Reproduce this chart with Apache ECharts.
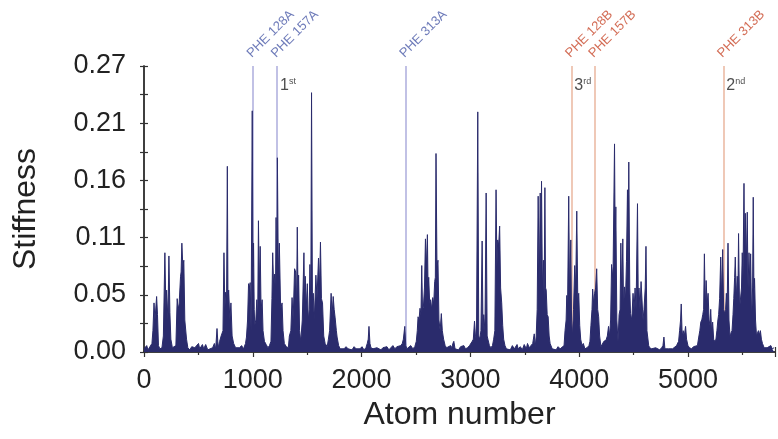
<!DOCTYPE html>
<html><head><meta charset="utf-8">
<script src="https://cdn.jsdelivr.net/npm/echarts@6/dist/echarts.min.js"></script>
<style>html,body{margin:0;padding:0;background:#fff}#c{width:778px;height:439px}</style>
</head><body><div id="c"></div>
<script>
// ---- data ----
const atoms = [0,25,37,55,73,82,92,101,116,124,133,146,165,178,192,201,208,220,229,238,247,261,275,293,305,314,323,336,341,348,357,366,375,391,403,421,439,467,501,512,537,549,567,586,604,631,647,659,671,682,695,709,726,735,743,750,759,766,772,778,789,799,810,824,842,860,878,897,915,933,942,952,961,968,976,984,995,1001,1007,1013,1018,1028,1037,1045,1052,1060,1068,1076,1086,1094,1107,1123,1139,1153,1167,1176,1183,1192,1201,1208,1214,1221,1226,1235,1244,1256,1269,1278,1290,1308,1327,1336,1350,1361,1371,1384,1394,1402,1409,1416,1421,1430,1441,1455,1470,1477,1482,1491,1501,1510,1519,1525,1533,1540,1548,1556,1565,1580,1590,1604,1613,1622,1631,1641,1652,1665,1684,1695,1706,1720,1729,1739,1748,1757,1768,1775,1789,1803,1821,1839,1857,1876,1894,1912,1931,1949,1967,1986,2004,2022,2040,2052,2061,2068,2077,2086,2105,2123,2141,2159,2178,2196,2214,2233,2251,2269,2288,2306,2324,2342,2361,2374,2384,2397,2406,2416,2434,2452,2471,2489,2503,2512,2519,2528,2537,2546,2553,2560,2568,2578,2587,2596,2605,2611,2617,2626,2635,2644,2654,2663,2672,2678,2684,2693,2702,2711,2722,2733,2742,2754,2768,2782,2800,2818,2830,2839,2848,2859,2873,2891,2910,2940,2955,2974,2992,3017,3027,3038,3047,3056,3068,3077,3086,3097,3108,3116,3123,3134,3145,3154,3161,3175,3189,3203,3214,3225,3236,3244,3251,3260,3269,3278,3288,3297,3306,3318,3331,3349,3367,3386,3404,3429,3440,3459,3477,3495,3514,3525,3541,3559,3573,3587,3596,3605,3614,3623,3633,3642,3648,3654,3662,3671,3678,3685,3691,3697,3706,3715,3724,3733,3752,3770,3788,3806,3825,3843,3861,3870,3880,3886,3893,3904,3912,3923,3930,3939,3948,3959,3968,3978,3987,3996,4005,4014,4026,4038,4053,4072,4090,4099,4108,4118,4124,4133,4142,4151,4161,4170,4179,4188,4200,4218,4227,4246,4259,4270,4280,4289,4298,4305,4312,4325,4331,4337,4346,4357,4367,4376,4383,4392,4401,4408,4417,4426,4435,4444,4450,4456,4465,4472,4484,4495,4505,4514,4523,4536,4543,4550,4559,4569,4577,4587,4596,4607,4614,4623,4630,4639,4648,4667,4685,4703,4721,4740,4758,4770,4779,4788,4804,4822,4840,4859,4877,4895,4914,4923,4932,4938,4947,4956,4966,4978,4987,5000,5014,5033,5051,5069,5087,5099,5109,5118,5127,5136,5144,5151,5159,5167,5176,5185,5194,5202,5209,5217,5227,5236,5245,5257,5266,5275,5282,5291,5301,5310,5319,5328,5337,5346,5353,5360,5368,5377,5387,5396,5405,5414,5421,5429,5435,5444,5453,5460,5465,5474,5484,5492,5499,5506,5515,5521,5527,5536,5545,5552,5561,5569,5576,5584,5588,5594,5600,5606,5612,5621,5630,5639,5648,5657,5666,5675,5685,5700,5710,5728,5746,5762,5774,5792];
const stiffness = [0.003,0.006,0.002,0.003,0.008,0.020,0.046,0.030,0.052,0.035,0.006,0.003,0.004,0.015,0.093,0.040,0.058,0.030,0.090,0.037,0.012,0.004,0.003,0.006,0.050,0.040,0.045,0.071,0.075,0.102,0.080,0.086,0.030,0.012,0.004,0.002,0.005,0.004,0.008,0.003,0.007,0.003,0.007,0.002,0.003,0.004,0.008,0.003,0.022,0.004,0.010,0.015,0.020,0.093,0.040,0.056,0.050,0.174,0.045,0.058,0.030,0.046,0.015,0.008,0.004,0.003,0.004,0.006,0.003,0.008,0.014,0.030,0.064,0.060,0.065,0.020,0.226,0.080,0.102,0.040,0.025,0.030,0.049,0.030,0.123,0.060,0.099,0.040,0.049,0.020,0.010,0.007,0.004,0.006,0.010,0.050,0.093,0.060,0.073,0.050,0.126,0.060,0.182,0.070,0.102,0.040,0.046,0.020,0.008,0.005,0.004,0.015,0.020,0.051,0.030,0.078,0.075,0.040,0.117,0.050,0.072,0.020,0.010,0.030,0.093,0.040,0.071,0.040,0.064,0.030,0.040,0.082,0.040,0.243,0.050,0.055,0.030,0.072,0.050,0.088,0.060,0.103,0.050,0.046,0.015,0.008,0.005,0.012,0.020,0.055,0.035,0.052,0.040,0.032,0.020,0.014,0.006,0.003,0.004,0.003,0.005,0.003,0.004,0.002,0.005,0.003,0.004,0.003,0.005,0.002,0.004,0.008,0.012,0.024,0.008,0.004,0.003,0.002,0.004,0.003,0.002,0.004,0.003,0.005,0.002,0.004,0.006,0.003,0.005,0.004,0.006,0.008,0.012,0.024,0.006,0.003,0.004,0.006,0.003,0.005,0.010,0.020,0.033,0.030,0.041,0.035,0.081,0.040,0.042,0.060,0.106,0.080,0.110,0.060,0.070,0.045,0.049,0.040,0.051,0.045,0.066,0.070,0.186,0.080,0.086,0.030,0.020,0.036,0.020,0.012,0.006,0.004,0.003,0.006,0.004,0.008,0.010,0.003,0.004,0.002,0.005,0.006,0.003,0.004,0.006,0.010,0.012,0.029,0.015,0.012,0.225,0.015,0.012,0.020,0.104,0.020,0.035,0.020,0.149,0.015,0.012,0.006,0.004,0.006,0.012,0.020,0.152,0.080,0.105,0.100,0.118,0.060,0.046,0.025,0.012,0.006,0.003,0.004,0.002,0.006,0.003,0.007,0.003,0.005,0.002,0.007,0.003,0.008,0.004,0.005,0.008,0.017,0.005,0.015,0.040,0.146,0.060,0.149,0.070,0.160,0.060,0.086,0.050,0.154,0.060,0.058,0.035,0.033,0.015,0.008,0.003,0.004,0.002,0.005,0.003,0.004,0.006,0.020,0.030,0.053,0.040,0.146,0.050,0.105,0.030,0.015,0.040,0.081,0.060,0.132,0.050,0.055,0.025,0.012,0.006,0.008,0.003,0.004,0.006,0.010,0.025,0.040,0.059,0.045,0.055,0.060,0.078,0.040,0.033,0.015,0.005,0.004,0.010,0.011,0.015,0.024,0.015,0.030,0.082,0.070,0.080,0.195,0.100,0.136,0.030,0.010,0.035,0.040,0.102,0.050,0.106,0.040,0.061,0.050,0.085,0.152,0.080,0.178,0.060,0.036,0.030,0.055,0.040,0.060,0.040,0.139,0.050,0.060,0.040,0.066,0.065,0.030,0.040,0.060,0.099,0.020,0.014,0.006,0.004,0.003,0.002,0.004,0.003,0.002,0.004,0.006,0.014,0.003,0.002,0.003,0.002,0.003,0.004,0.006,0.010,0.020,0.030,0.045,0.015,0.020,0.015,0.024,0.012,0.006,0.004,0.003,0.005,0.004,0.006,0.014,0.020,0.028,0.030,0.035,0.040,0.092,0.040,0.067,0.045,0.055,0.030,0.025,0.040,0.020,0.028,0.012,0.010,0.012,0.020,0.030,0.035,0.050,0.089,0.050,0.096,0.040,0.036,0.040,0.055,0.040,0.102,0.030,0.014,0.018,0.020,0.035,0.050,0.070,0.089,0.050,0.071,0.060,0.111,0.040,0.040,0.060,0.093,0.070,0.158,0.080,0.130,0.080,0.131,0.060,0.093,0.060,0.092,0.035,0.040,0.060,0.145,0.060,0.069,0.030,0.015,0.018,0.020,0.016,0.020,0.012,0.008,0.004,0.003,0.004,0.003,0.006,0.003,0.004];

const pheNames  = ['PHE 128A','PHE 157A','PHE 313A','PHE 128B','PHE 157B','PHE 313B'];
const pheAtoms  = [1000, 1223, 2404, 3928, 4142, 5325];
const pheChains = ['A','A','A','B','B','B'];

const rankNums  = ['1','3','2'];
const rankSups  = ['st','rd','nd'];
const rankAtoms = [1223, 3928, 5325];

const xTickLabels = ['0','1000','2000','3000','4000','5000'];
const yTickLabels = ['0.00','0.05','0.11','0.16','0.21','0.27'];

const X_MAX = 5800, X_STEP = 1000;
const Y_MAX = 0.268, Y_STEP = 0.0536;

// ---- styles ----
const FONT = 'Liberation Sans, Arial, Helvetica, sans-serif';
const BAR = '#2a2b6c';
const TXT = '#222';
const AXIS = '#333';
const lineCol  = {A:'#b2b2df', B:'#ebbba5'};
const labelCol = {A:'#4a5aa8', B:'#c8482c'};

const chart = echarts.init(document.getElementById('c'), null, {renderer:'canvas'});

const axisCommonX = {
  type:'value', min:0, max:X_MAX, interval:X_STEP,
  axisLine:{show:true, lineStyle:{color:AXIS, width:1.5}},
  axisTick:{show:true, inside:true, length:5, lineStyle:{color:AXIS, width:1.2}},
  minorTick:{show:true, splitNumber:2, length:3, lineStyle:{color:AXIS, width:1.2}},
  splitLine:{show:false}
};
const axisCommonY = {
  type:'value', min:0, max:Y_MAX, interval:Y_STEP,
  axisLine:{show:true, lineStyle:{color:AXIS, width:1.5}},
  axisTick:{show:true, inside:true, length:4, lineStyle:{color:AXIS, width:1.2}},
  minorTick:{show:true, splitNumber:2, length:4, lineStyle:{color:AXIS, width:1.2}},
  splitLine:{show:false}
};

chart.setOption({
  animation:false,
  backgroundColor:'#fff',
  grid:{left:144, right:1, top:66, bottom:87, containLabel:false},
  xAxis:[
    Object.assign({}, axisCommonX, {
      position:'bottom',
      axisLabel:{show:true, fontSize:27, color:TXT, fontFamily:FONT, margin:15,
        formatter:v => { const i = Math.round(v / X_STEP); return xTickLabels[i] !== undefined ? xTickLabels[i] : ''; }},
      name:'Atom number', nameLocation:'middle', nameGap:46,
      nameTextStyle:{fontSize:32, color:TXT, fontFamily:FONT}
    }),
    Object.assign({}, axisCommonX, {position:'top', axisLabel:{show:false}})
  ],
  yAxis:[
    Object.assign({}, axisCommonY, {
      position:'left',
      axisLabel:{show:true, fontSize:27, color:TXT, fontFamily:FONT, margin:18,
        formatter:v => yTickLabels[Math.round(v / Y_STEP)]},
      name:'Stiffness', nameLocation:'middle', nameGap:102,
      nameTextStyle:{fontSize:32, color:TXT, fontFamily:FONT}
    }),
    Object.assign({}, axisCommonY, {position:'right', axisLabel:{show:false}})
  ],
  series:[
    {
      type:'scatter', name:'phe', xAxisIndex:0, yAxisIndex:0, z:1, silent:true,
      symbolSize:0,
      data: pheAtoms.map((a,i) => ({
        value:[a, Y_MAX],
        label:{color: labelCol[pheChains[i]]}
      })),
      label:{show:true, formatter:p => pheNames[p.dataIndex], rotate:45,
        position:[1,-6], align:'left', verticalAlign:'bottom',
        fontSize:13, fontFamily:FONT},
      markLine:{
        z:1, silent:true, symbol:['none','none'], animation:false,
        label:{show:false},
        data: pheAtoms.map((a,i) => ({xAxis:a, lineStyle:{color:lineCol[pheChains[i]], width:1.6, type:'solid'}}))
      }
    },
    {
      type:'line', name:'Stiffness', xAxisIndex:0, yAxisIndex:0, z:3,
      data: atoms.map((a,i) => [a, stiffness[i]]),
      symbol:'none', showSymbol:false, sampling:null,
      lineStyle:{color:BAR, width:1},
      itemStyle:{color:BAR},
      areaStyle:{color:BAR, opacity:1}
    },
    {
      type:'scatter', name:'rank', xAxisIndex:0, yAxisIndex:0, z:4, silent:true,
      symbolSize:0,
      data: rankAtoms.map(a => [a, Y_MAX]),
      label:{show:true, position:[3,11], align:'left', verticalAlign:'top',
        formatter:p => '{n|' + rankNums[p.dataIndex] + '}{s|' + rankSups[p.dataIndex] + '}',
        rich:{
          n:{fontSize:16, color:TXT, fontFamily:FONT, lineHeight:17},
          s:{fontSize:9, color:TXT, fontFamily:FONT, verticalAlign:'top', lineHeight:17}
        }}
    }
  ]
});
</script>
</body></html>
